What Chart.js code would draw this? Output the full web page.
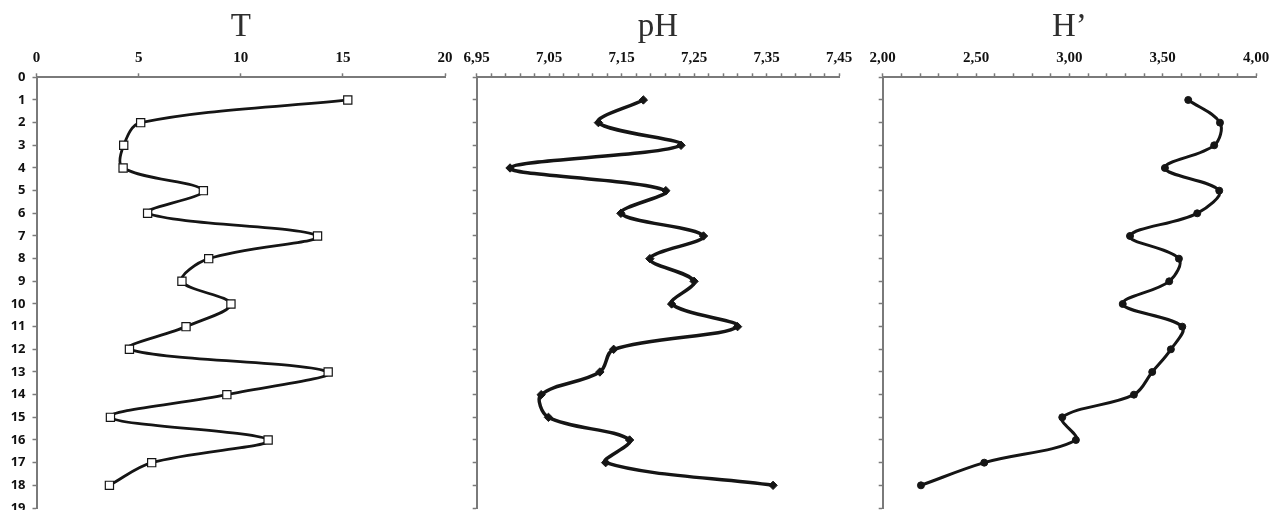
<!DOCTYPE html>
<html>
<head>
<meta charset="utf-8">
<script src="https://cdn.jsdelivr.net/npm/chart.js@4"></script>
<style>
    html, body { margin: 0; padding: 0; background: #fff; width: 1269px; height: 510px; overflow: hidden; position: relative; }
    .panel { position: absolute; top: 0; height: 540px; }
    .panel canvas { display: block; }
</style>
</head>
<body>
<div class="panel" id="p1" style="left:0;width:460px"><canvas id="chartT" width="460" height="540"></canvas></div>
<div class="panel" id="p2" style="left:450px;width:410px"><canvas id="chartPH" width="410" height="540"></canvas></div>
<div class="panel" id="p3" style="left:860px;width:420px"><canvas id="chartH" width="420" height="540"></canvas></div>
<script>
// sample number (depth axis)
const samples = [1, 2, 3, 4, 5, 6, 7, 8, 9, 10, 11, 12, 13, 14, 15, 16, 17, 18];

const tValues = [15.24, 5.10, 4.27, 4.24, 8.17, 5.44, 13.76, 8.43, 7.12, 9.52, 7.32, 4.55, 14.28, 9.32, 3.62, 11.34, 5.64, 3.57];
const phValues = [7.180, 7.118, 7.232, 6.996, 7.211, 7.149, 7.263, 7.189, 7.250, 7.219, 7.310, 7.139, 7.120, 7.039, 7.049, 7.161, 7.128, 7.359];
const hValues = [3.637, 3.807, 3.776, 3.512, 3.803, 3.685, 3.325, 3.587, 3.535, 3.286, 3.605, 3.544, 3.444, 3.346, 2.962, 3.035, 2.544, 2.205];

const tTicks = [0, 5, 10, 15, 20];
const phTicks = [6.95, 7.05, 7.15, 7.25, 7.35, 7.45];
const hTicks = [2.00, 2.50, 3.00, 3.50, 4.00];
const depthTicks = [0, 1, 2, 3, 4, 5, 6, 7, 8, 9, 10, 11, 12, 13, 14, 15, 16, 17, 18, 19];

const AXIS_GREY = '#7a7a7a';

const toPoints = (values) => values.map((v, i) => ({ x: v, y: samples[i] }));

const isMajor = (value, majors) => majors.some((m) => Math.abs(m - value) < 1e-6);

const minorTicks = (majors, step) => {
    const out = [];
    const first = majors[0];
    const last = majors[majors.length - 1];
    const n = Math.round((last - first) / step);
    for (let i = 0; i <= n; i++) {
        out.push({ value: Number((first + i * step).toFixed(4)) });
    }
    return out;
};

const makeChart = (id, cfg) => {
    return new Chart(document.getElementById(id), {
        type: 'line',
        data: {
            datasets: [
                {
                    data: toPoints(cfg.values),
                    borderColor: '#151515',
                    borderWidth: cfg.lineWidth,
                    tension: 0.35,
                    pointStyle: cfg.pointStyle,
                    pointRadius: cfg.pointRadius,
                    pointBackgroundColor: cfg.pointFill,
                    pointBorderColor: '#151515',
                    pointBorderWidth: cfg.pointBorder,
                },
            ],
        },
        options: {
            responsive: false,
            animation: false,
            indexAxis: 'y',
            layout: { padding: { left: 0, right: cfg.padRight, top: 0, bottom: 32 } },
            plugins: {
                legend: { display: false },
                tooltip: { enabled: false },
                title: {
                    display: true,
                    text: cfg.title,
                    fullSize: false,
                    color: '#2e2e2e',
                    font: { family: 'Liberation Serif', size: 33, weight: 'normal', lineHeight: 1.1 },
                    padding: { top: 9, bottom: 0 },
                },
            },
            scales: {
                x: {
                    type: 'linear',
                    position: 'top',
                    min: cfg.ticks[0],
                    max: cfg.ticks[cfg.ticks.length - 1],
                    afterBuildTicks: (scale) => {
                        scale.ticks = cfg.minorStep ? minorTicks(cfg.ticks, cfg.minorStep) : cfg.ticks.map((v) => ({ value: v }));
                    },
                    afterFit: (scale) => {
                        scale.height = 32;
                    },
                    grid: {
                        drawOnChartArea: false,
                        drawTicks: true,
                        tickLength: 4,
                        tickColor: AXIS_GREY,
                        tickWidth: 1.5,
                    },
                    border: { display: true, color: AXIS_GREY, width: 2 },
                    ticks: {
                        autoSkip: false,
                        maxRotation: 0,
                        padding: 6,
                        color: '#111',
                        font: { family: 'Liberation Serif', size: 15, weight: 'bold' },
                        callback: (value) => (isMajor(value, cfg.ticks) ? cfg.format(value) : ''),
                    },
                },
                y: {
                    type: 'linear',
                    reverse: true,
                    min: depthTicks[0],
                    max: depthTicks[depthTicks.length - 1],
                    afterBuildTicks: (scale) => {
                        scale.ticks = depthTicks.map((v) => ({ value: v }));
                    },
                    afterFit: (scale) => {
                        scale.width = cfg.yWidth;
                    },
                    grid: {
                        drawOnChartArea: false,
                        drawTicks: true,
                        tickLength: 4,
                        tickColor: AXIS_GREY,
                        tickWidth: 1.5,
                    },
                    border: { display: true, color: AXIS_GREY, width: 2 },
                    ticks: {
                        autoSkip: false,
                        padding: 7,
                        color: '#111',
                        font: { family: 'Noto Sans', size: 13, weight: 'bold' },
                        callback: (value) => (cfg.showDepth ? String(value) : ''),
                    },
                },
            },
        },
    });
};

makeChart('chartT', {
    title: 'T',
    values: tValues,
    ticks: tTicks,
    minorStep: null,
    format: (v) => String(v),
    lineWidth: 2.8,
    pointStyle: 'rect',
    pointRadius: 5.8,
    pointFill: '#ffffff',
    pointBorder: 1.2,
    yWidth: 36.5,
    padRight: 15,
    showDepth: true,
});

makeChart('chartPH', {
    title: 'pH',
    values: phValues,
    ticks: phTicks,
    minorStep: 0.02,
    format: (v) => v.toFixed(2).replace('.', ','),
    lineWidth: 3.5,
    pointStyle: 'rectRot',
    pointRadius: 4.2,
    pointFill: '#151515',
    pointBorder: 1,
    yWidth: 26.7,
    padRight: 21,
    showDepth: false,
});

makeChart('chartH', {
    title: 'H’',
    values: hValues,
    ticks: hTicks,
    minorStep: 0.1,
    format: (v) => v.toFixed(2).replace('.', ','),
    lineWidth: 3,
    pointStyle: 'circle',
    pointRadius: 3.5,
    pointFill: '#151515',
    pointBorder: 1,
    yWidth: 22.7,
    padRight: 24,
    showDepth: false,
});
</script>
</body>
</html>
